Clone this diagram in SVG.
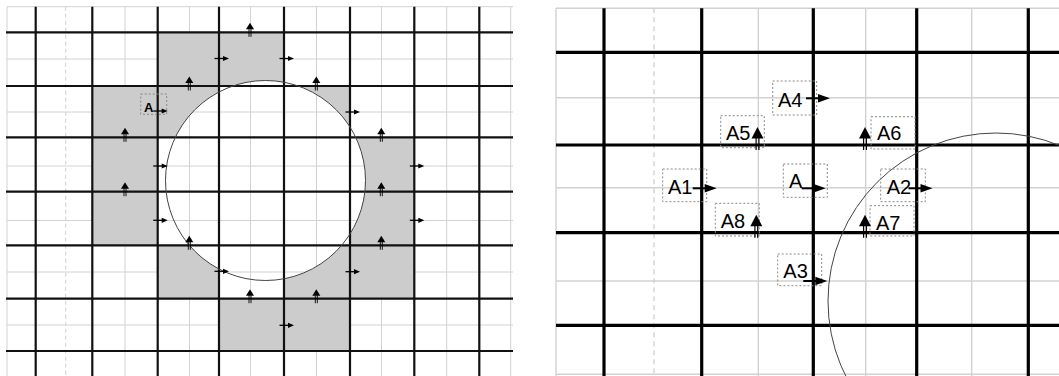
<svg xmlns="http://www.w3.org/2000/svg" xmlns:xlink="http://www.w3.org/1999/xlink" width="1059" height="376" viewBox="0 0 1059 376">
<style>
.thinL{stroke:#d2d2d2;stroke-width:1;fill:none}
.thickL{stroke:#111;stroke-width:2.2;fill:none}
.dashL{stroke:#cfcfcf;stroke-width:1;stroke-dasharray:4 3;fill:none}
.thinR{stroke:#d2d2d2;stroke-width:1.4;fill:none}
.thickR{stroke:#000;stroke-width:3.2;fill:none}
.dashR{stroke:#cfcfcf;stroke-width:1.3;stroke-dasharray:5 4;fill:none}
.circ{fill:none;stroke:#444;stroke-width:1}
.box{fill:none;stroke:#8a8a8a;stroke-width:1;stroke-dasharray:2 2}
.lblR{font-family:"Liberation Sans",Arial,sans-serif;font-size:20px;fill:#000}
.lblL{font-family:"Liberation Sans",Arial,sans-serif;font-size:13px;font-weight:bold;fill:#000}
</style>
<defs>
<mask id="hole" maskUnits="userSpaceOnUse" x="0" y="0" width="530" height="376">
<rect x="0" y="0" width="530" height="376" fill="#fff"/>
<circle cx="265.5" cy="180.5" r="100" fill="#000"/>
</mask>
<g id="raS"><line x1="-4.5" y1="0" x2="5" y2="0" stroke="#000" stroke-width="1.3"/><polygon points="4,-2.6 10,0 4,2.6" fill="#000"/></g>
<g id="uaS"><line x1="-1" y1="-3.5" x2="-1" y2="4.5" stroke="#000" stroke-width="0.9"/><line x1="1" y1="-3.5" x2="1" y2="4.5" stroke="#000" stroke-width="0.9"/><polygon points="-4,-3 0,-9.5 4,-3" fill="#000"/></g>
<g id="raB"><line x1="0" y1="0" x2="13" y2="0" stroke="#000" stroke-width="2"/><polygon points="12,-4.3 24,0 12,4.3" fill="#000"/></g>
<g id="uaB"><line x1="-1.4" y1="-7" x2="-1.4" y2="5" stroke="#000" stroke-width="1.2"/><line x1="1.4" y1="-7" x2="1.4" y2="5" stroke="#000" stroke-width="1.2"/><polygon points="-6,-6.5 0,-18 6,-6.5" fill="#000"/></g>
</defs>
<rect x="0" y="0" width="1059" height="376" fill="#fff"/>

<g id="left-panel">
<g id="left-thin-grid">
<line class="thinL" x1="7" y1="6.7" x2="513" y2="6.7"/>
<line class="thinL" x1="7" y1="59" x2="513" y2="59"/>
<line class="thinL" x1="7" y1="112" x2="513" y2="112"/>
<line class="thinL" x1="7" y1="166" x2="513" y2="166"/>
<line class="thinL" x1="7" y1="220.5" x2="513" y2="220.5"/>
<line class="thinL" x1="7" y1="272" x2="513" y2="272"/>
<line class="thinL" x1="7" y1="325" x2="513" y2="325"/>
<line class="thinL" x1="7" y1="6.7" x2="7" y2="376"/>
<line class="dashL" x1="65.7" y1="6.7" x2="65.7" y2="376"/>
<line class="thinL" x1="125" y1="6.7" x2="125" y2="376"/>
<line class="thinL" x1="189.5" y1="6.7" x2="189.5" y2="376"/>
<line class="thinL" x1="250.5" y1="6.7" x2="250.5" y2="376"/>
<line class="thinL" x1="316.5" y1="6.7" x2="316.5" y2="376"/>
<line class="thinL" x1="381.5" y1="6.7" x2="381.5" y2="376"/>
<line class="thinL" x1="446.7" y1="6.7" x2="446.7" y2="376"/>
<line class="thinL" x1="510.7" y1="6.7" x2="510.7" y2="376"/>
</g>
<g id="cut-cells" fill="#cccccc" mask="url(#hole)">
<rect x="157.7" y="32.3" width="126.3" height="53.7"/>
<rect x="92.3" y="86" width="126.7" height="51.3"/>
<rect x="284" y="86" width="66" height="51.3"/>
<rect x="92.3" y="137.3" width="65.4" height="108"/>
<rect x="350" y="137.3" width="64.3" height="161.4"/>
<rect x="157.7" y="245.3" width="61.3" height="53.4"/>
<rect x="284" y="245.3" width="66" height="53.4"/>
<rect x="219" y="298.7" width="131" height="52.3"/>
</g>
<g id="left-thick-grid">
<line class="thickL" x1="6" y1="32.3" x2="513" y2="32.3"/>
<line class="thickL" x1="6" y1="86" x2="513" y2="86"/>
<line class="thickL" x1="6" y1="137.3" x2="513" y2="137.3"/>
<line class="thickL" x1="6" y1="191.7" x2="513" y2="191.7"/>
<line class="thickL" x1="6" y1="245.3" x2="513" y2="245.3"/>
<line class="thickL" x1="6" y1="298.7" x2="513" y2="298.7"/>
<line class="thickL" x1="6" y1="351" x2="513" y2="351"/>
<line class="thickL" x1="35.7" y1="6.7" x2="35.7" y2="376"/>
<line class="thickL" x1="92.3" y1="6.7" x2="92.3" y2="376"/>
<line class="thickL" x1="157.7" y1="6.7" x2="157.7" y2="376"/>
<line class="thickL" x1="219" y1="6.7" x2="219" y2="376"/>
<line class="thickL" x1="284" y1="6.7" x2="284" y2="376"/>
<line class="thickL" x1="350" y1="6.7" x2="350" y2="376"/>
<line class="thickL" x1="414.3" y1="6.7" x2="414.3" y2="376"/>
<line class="thickL" x1="479.3" y1="6.7" x2="479.3" y2="376"/>
</g>
<circle id="left-circle" class="circ" cx="265.5" cy="180.5" r="100"/>
<g id="left-arrows">
<use xlink:href="#raS" x="219" y="58.5"/>
<use xlink:href="#raS" x="284" y="58.5"/>
<use xlink:href="#raS" x="157.7" y="111"/>
<use xlink:href="#raS" x="350" y="112"/>
<use xlink:href="#raS" x="157.7" y="166"/>
<use xlink:href="#raS" x="414.3" y="166"/>
<use xlink:href="#raS" x="157.7" y="220.3"/>
<use xlink:href="#raS" x="414.3" y="220.3"/>
<use xlink:href="#raS" x="219" y="271.3"/>
<use xlink:href="#raS" x="350" y="271.7"/>
<use xlink:href="#raS" x="284" y="325.3"/>
<use xlink:href="#uaS" x="250" y="32.3"/>
<use xlink:href="#uaS" x="189.3" y="86"/>
<use xlink:href="#uaS" x="316.3" y="86"/>
<use xlink:href="#uaS" x="125" y="137.3"/>
<use xlink:href="#uaS" x="381.3" y="137.3"/>
<use xlink:href="#uaS" x="125" y="191.7"/>
<use xlink:href="#uaS" x="381.3" y="191.7"/>
<use xlink:href="#uaS" x="189.3" y="245.3"/>
<use xlink:href="#uaS" x="381.3" y="245.3"/>
<use xlink:href="#uaS" x="250" y="298.7"/>
<use xlink:href="#uaS" x="316.3" y="298.7"/>
</g>
<g id="left-label-A">
<rect class="box" x="140.7" y="94" width="26" height="20.3"/>
<text class="lblL" x="144" y="111.5">A</text>
</g>
</g>

<g id="right-panel">
<g id="right-thin-grid">
<line class="thinR" x1="556" y1="8.3" x2="1059" y2="8.3"/>
<line class="thinR" x1="556" y1="97.7" x2="1059" y2="97.7"/>
<line class="thinR" x1="556" y1="187.7" x2="1059" y2="187.7"/>
<line class="thinR" x1="556" y1="281" x2="1059" y2="281"/>
<line class="thinR" x1="556" y1="374.3" x2="1059" y2="374.3"/>
<line class="thinR" x1="556" y1="8.3" x2="556" y2="376"/>
<line class="dashR" x1="654" y1="8.3" x2="654" y2="376"/>
<line class="thinR" x1="758.3" y1="8.3" x2="758.3" y2="376"/>
<line class="thinR" x1="865.7" y1="8.3" x2="865.7" y2="376"/>
<line class="thinR" x1="971.7" y1="8.3" x2="971.7" y2="376"/>
</g>
<g id="right-thick-grid">
<line class="thickR" x1="556" y1="52.3" x2="1059" y2="52.3"/>
<line class="thickR" x1="556" y1="145" x2="1059" y2="145"/>
<line class="thickR" x1="556" y1="232.7" x2="1059" y2="232.7"/>
<line class="thickR" x1="556" y1="325.3" x2="1059" y2="325.3"/>
<line class="thickR" x1="604" y1="8.3" x2="604" y2="376"/>
<line class="thickR" x1="701.7" y1="8.3" x2="701.7" y2="376"/>
<line class="thickR" x1="813.3" y1="8.3" x2="813.3" y2="376"/>
<line class="thickR" x1="916.7" y1="8.3" x2="916.7" y2="376"/>
<line class="thickR" x1="1028.3" y1="8.3" x2="1028.3" y2="376"/>
</g>
<circle id="right-circle" class="circ" cx="996" cy="301" r="168" stroke="#555" stroke-width="1.2"/>
<g id="node-A4"><rect class="box" x="772.7" y="81" width="44" height="34"/><text class="lblR" x="778" y="106.5">A4</text><use xlink:href="#raB" x="806" y="98.3"/></g>
<g id="node-A5"><rect class="box" x="720.7" y="115.7" width="43.6" height="32"/><text class="lblR" x="726" y="140">A5</text><use xlink:href="#uaB" x="757.5" y="145"/></g>
<g id="node-A6"><rect class="box" x="871" y="116.7" width="44" height="32.3"/><text class="lblR" x="877" y="140">A6</text><use xlink:href="#uaB" x="865" y="145"/></g>
<g id="node-A1"><rect class="box" x="662.7" y="169" width="44" height="32.7"/><text class="lblR" x="668" y="194.3">A1</text><use xlink:href="#raB" x="692.7" y="188.3"/></g>
<g id="node-A"><rect class="box" x="783.3" y="164" width="44" height="33.3"/><text class="lblR" x="789" y="188.3">A</text><use xlink:href="#raB" x="801.7" y="188.3"/></g>
<g id="node-A2"><rect class="box" x="880.7" y="169" width="44.6" height="32.7"/><text class="lblR" x="886.7" y="194">A2</text><use xlink:href="#raB" x="908.5" y="188.3"/></g>
<g id="node-A8"><rect class="box" x="715.3" y="203.3" width="44" height="32.7"/><text class="lblR" x="720.7" y="227.7">A8</text><use xlink:href="#uaB" x="756.3" y="232.7"/></g>
<g id="node-A7"><rect class="box" x="870" y="205.7" width="44" height="30.3"/><text class="lblR" x="876" y="230">A7</text><use xlink:href="#uaB" x="865" y="232.7"/></g>
<g id="node-A3"><rect class="box" x="777.7" y="254" width="44" height="31.7"/><text class="lblR" x="783.3" y="277.7">A3</text><use xlink:href="#raB" x="803.3" y="281"/></g>
</g>
</svg>
